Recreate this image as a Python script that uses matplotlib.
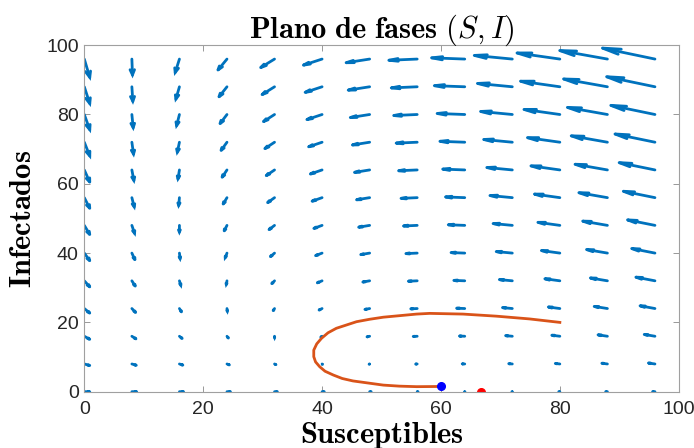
import matplotlib
matplotlib.use("Agg")
import matplotlib.pyplot as plt
import numpy as np

# grid of the vector field (S across, I up)
s_grid = [0, 8, 16, 24, 32, 40, 48, 56, 64, 72, 80, 88, 96]
i_grid = [0, 8, 16, 24, 32, 40, 48, 56, 64, 72, 80, 88, 96]

# dS/dt read per row (one row per I value, bottom to top)
dS = [
    [10, 8.8, 7.6, 6.4, 5.2, 4.0, 2.8, 1.6, 0.4, -0.8, -2.0, -3.2, -4.4],
    [10, 8.16, 6.32, 4.48, 2.64, 0.8, -1.04, -2.88, -4.72, -6.56, -8.4, -10.24, -12.08],
    [10, 7.52, 5.04, 2.56, 0.08, -2.4, -4.88, -7.36, -9.84, -12.32, -14.8, -17.28, -19.76],
    [10, 6.88, 3.76, 0.64, -2.48, -5.6, -8.72, -11.84, -14.96, -18.08, -21.2, -24.32, -27.44],
    [10, 6.24, 2.48, -1.28, -5.04, -8.8, -12.56, -16.32, -20.08, -23.84, -27.6, -31.36, -35.12],
    [10, 5.6, 1.2, -3.2, -7.6, -12.0, -16.4, -20.8, -25.2, -29.6, -34.0, -38.4, -42.8],
    [10, 4.96, -0.08, -5.12, -10.16, -15.2, -20.24, -25.28, -30.32, -35.36, -40.4, -45.44, -50.48],
    [10, 4.32, -1.36, -7.04, -12.72, -18.4, -24.08, -29.76, -35.44, -41.12, -46.8, -52.48, -58.16],
    [10, 3.68, -2.64, -8.96, -15.28, -21.6, -27.92, -34.24, -40.56, -46.88, -53.2, -59.52, -65.84],
    [10, 3.04, -3.92, -10.88, -17.84, -24.8, -31.76, -38.72, -45.68, -52.64, -59.6, -66.56, -73.52],
    [10, 2.4, -5.2, -12.8, -20.4, -28.0, -35.6, -43.2, -50.8, -58.4, -66.0, -73.6, -81.2],
    [10, 1.76, -6.48, -14.72, -22.96, -31.2, -39.44, -47.68, -55.92, -64.16, -72.4, -80.64, -88.88],
    [10, 1.12, -7.76, -16.64, -25.52, -34.4, -43.28, -52.16, -61.04, -69.92, -78.8, -87.68, -96.56],
]

# dI/dt read per row
dI = [
    [0, 0, 0, 0, 0, 0, 0, 0, 0, 0, 0, 0, 0],
    [-4.8, -4.16, -3.52, -2.88, -2.24, -1.6, -0.96, -0.32, 0.32, 0.96, 1.6, 2.24, 2.88],
    [-9.6, -8.32, -7.04, -5.76, -4.48, -3.2, -1.92, -0.64, 0.64, 1.92, 3.2, 4.48, 5.76],
    [-14.4, -12.48, -10.56, -8.64, -6.72, -4.8, -2.88, -0.96, 0.96, 2.88, 4.8, 6.72, 8.64],
    [-19.2, -16.64, -14.08, -11.52, -8.96, -6.4, -3.84, -1.28, 1.28, 3.84, 6.4, 8.96, 11.52],
    [-24.0, -20.8, -17.6, -14.4, -11.2, -8.0, -4.8, -1.6, 1.6, 4.8, 8.0, 11.2, 14.4],
    [-28.8, -24.96, -21.12, -17.28, -13.44, -9.6, -5.76, -1.92, 1.92, 5.76, 9.6, 13.44, 17.28],
    [-33.6, -29.12, -24.64, -20.16, -15.68, -11.2, -6.72, -2.24, 2.24, 6.72, 11.2, 15.68, 20.16],
    [-38.4, -33.28, -28.16, -23.04, -17.92, -12.8, -7.68, -2.56, 2.56, 7.68, 12.8, 17.92, 23.04],
    [-43.2, -37.44, -31.68, -25.92, -20.16, -14.4, -8.64, -2.88, 2.88, 8.64, 14.4, 20.16, 25.92],
    [-48.0, -41.6, -35.2, -28.8, -22.4, -16.0, -9.6, -3.2, 3.2, 9.6, 16.0, 22.4, 28.8],
    [-52.8, -45.76, -38.72, -31.68, -24.64, -17.6, -10.56, -3.52, 3.52, 10.56, 17.6, 24.64, 31.68],
    [-57.6, -49.92, -42.24, -34.56, -26.88, -19.2, -11.52, -3.84, 3.84, 11.52, 19.2, 26.88, 34.56],
]

# trajectory, from (80, 20) to the endemic point
traj_s = [80.0, 74.9, 69.3, 63.7, 58.1, 55.9, 50.3, 48.0, 45.8, 42.4, 41.0, 39.9,
          39.1, 38.6, 38.6, 38.9, 39.6, 40.5, 41.9, 43.4, 45.2, 50.3, 53.0, 55.9, 59.6]
traj_i = [20.0, 21.0, 21.8, 22.4, 22.6, 22.4, 21.5, 20.9, 20.2, 18.3, 17.0, 15.4,
          13.8, 12.0, 10.1, 8.6, 7.2, 5.9, 4.8, 3.8, 3.1, 1.9, 1.6, 1.45, 1.5]

endemic = (60.0, 1.67)
disease_free = (66.67, 0.0)


def matlab_quiver(ax, x, y, u, v, scale, color, lw):
    # shafts + two-line heads, the way MATLAB's quiver draws them
    x = np.ravel(x).astype(float)
    y = np.ravel(y).astype(float)
    u = np.ravel(u) * scale
    v = np.ravel(v) * scale
    alpha, beta = 0.33, 0.25
    nan = np.full_like(x, np.nan)
    ex, ey = x + u, y + v
    shaft_x = np.vstack([x, ex, nan]).T.ravel()
    shaft_y = np.vstack([y, ey, nan]).T.ravel()
    head_x = np.vstack([ex - alpha * (u + beta * v), ex,
                        ex - alpha * (u - beta * v), nan]).T.ravel()
    head_y = np.vstack([ey - alpha * (v - beta * u), ey,
                        ey - alpha * (v + beta * u), nan]).T.ravel()
    ax.plot(shaft_x, shaft_y, color=color, lw=lw, solid_capstyle="round")
    ax.plot(head_x, head_y, color=color, lw=lw, solid_capstyle="round",
            solid_joinstyle="miter")


plt.rcParams["mathtext.fontset"] = "cm"
plt.rcParams["font.family"] = "Liberation Sans"

fig = plt.figure(figsize=(6.94, 4.48), dpi=100)
ax = fig.add_axes([0.1215, 0.1257, 0.8565, 0.7734])

S, I = np.meshgrid(s_grid, i_grid)
matlab_quiver(ax, S, I, np.array(dS), np.array(dI), 0.0916, "#0072BD", 2.0)

ax.plot(traj_s, traj_i, color="#D95319", lw=2.0)
ax.plot(*endemic, "o", color="blue", ms=5.5)
ax.plot(*disease_free, "o", color="red", ms=5.5)

ax.set_xlim(0, 100)
ax.set_ylim(0, 100)
ax.set_xticks([0, 20, 40, 60, 80, 100])
ax.set_yticks([0, 20, 40, 60, 80, 100])
ax.tick_params(direction="in", top=True, right=True, length=4, width=0.6,
               color="#888888", labelsize=14, labelcolor="#262626")
ax.tick_params(axis="x", pad=7)
ax.tick_params(axis="y", pad=4)
for sp in ax.spines.values():
    sp.set_color("#a0a0a0")
    sp.set_linewidth(0.8)

ax.set_title(r"$\mathbf{Plano\ de\ fases}\ (S,I)$", fontsize=22, pad=5)
ax.set_xlabel(r"$\mathbf{Susceptibles}$", fontsize=22, labelpad=1)
ax.set_ylabel(r"$\mathbf{Infectados}$", fontsize=22, labelpad=6)

fig.savefig("out.png", dpi=100)
